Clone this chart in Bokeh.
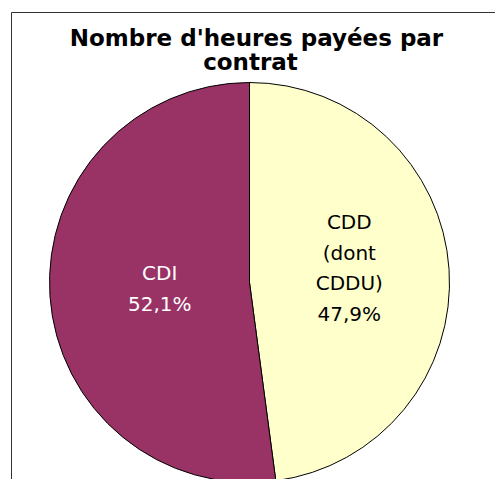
import math
from bokeh.plotting import figure
from bokeh.models import ColumnDataSource, Label
from bokeh.core.properties import value
from bokeh.embed import file_html
from bokeh.resources import INLINE

# Data
categories = ["CDD\n(dont\nCDDU)", "CDI"]
shares = [47.9, 52.1]
pct_labels = ["47,9%", "52,1%"]
colors = ["#FFFFCC", "#993366"]
label_colors = ["black", "white"]

W, H = 495, 479
CX, CY, R = 249, H - 282, 200

p = figure(width=W, height=H, x_range=(0, W), y_range=(0, H),
           output_backend="svg", toolbar_location=None,
           min_border=0, outline_line_color=None)
p.axis.visible = False
p.grid.visible = False
p.background_fill_color = "white"

# frame border (left and top)
p.segment(x0=[11, 11], y0=[H - 12, H - 12], x1=[11, W + 5], y1=[-5, H - 12],
          line_color="#333333", line_width=1)

total = sum(shares)
starts, ends, mids = [], [], []
a = math.pi / 2
for s in shares:
    sweep = 2 * math.pi * s / total
    starts.append(a)
    ends.append(a - sweep)
    mids.append(a - sweep / 2)
    a -= sweep

src = ColumnDataSource(dict(start=starts, end=ends, color=colors))
p.wedge(x=CX, y=CY, radius=R, start_angle="start", end_angle="end",
        direction="clock", fill_color="color", line_color="black",
        line_width=1, source=src)

lr = [0.5, 0.45]
dy = [8, 0]
texts = [c + "\n" + v for c, v in zip(categories, pct_labels)]
lx = [CX + R * f * math.cos(m) for f, m in zip(lr, mids)]
ly = [CY + R * f * math.sin(m) + d for f, m, d in zip(lr, mids, dy)]
tsrc = ColumnDataSource(dict(x=lx, y=ly, text=texts, color=label_colors))
p.text(x="x", y="y", text="text", text_color="color", source=tsrc,
       text_font=value("DejaVu Sans"), text_font_size="20px",
       text_align="center", text_baseline="middle", text_line_height=1.28)

for txt, yb, xc in [("Nombre d'heures payées par", 37, 256), ("contrat", 61, 250)]:
    p.add_layout(Label(x=xc, y=H - yb, text=txt, text_align="center",
                       text_baseline="alphabetic", text_font="DejaVu Sans",
                       text_font_style="bold", text_font_size="23px",
                       text_color="black"))

open("out.html", "w").write(file_html(p, INLINE))
